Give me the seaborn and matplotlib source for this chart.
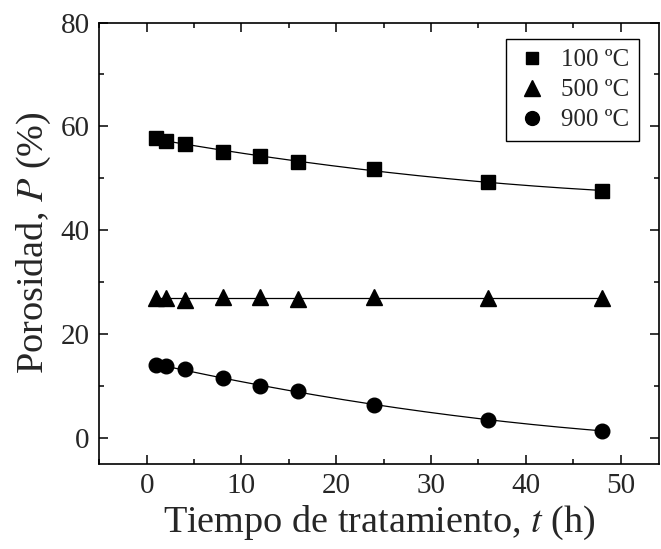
import numpy as np
import pandas as pd
import matplotlib
matplotlib.use("Agg")
import matplotlib.pyplot as plt
import seaborn as sns
from matplotlib.ticker import MultipleLocator
from matplotlib.lines import Line2D

sns.set_style("ticks")
plt.rcParams['font.family'] = ['Liberation Serif', 'DejaVu Serif']
plt.rcParams['mathtext.fontset'] = 'stix'

t = [1, 2, 4, 8, 12, 16, 24, 36, 48]
p100 = [57.7, 57.2, 56.6, 55.1, 54.2, 53.2, 51.7, 49.2, 47.6]
p500 = [26.9, 27.0, 26.6, 27.2, 27.1, 26.7, 27.1, 27.0, 26.9]
p900 = [14.0, 13.8, 13.2, 11.4, 10.0, 9.0, 6.3, 3.4, 1.35]
labels = ["100 ºC", "500 ºC", "900 ºC"]
markers = ["s", "^", "o"]
sizes = [9.5, 11.5, 10.5]

df = pd.DataFrame({
    "t": t * 3,
    "P": p100 + p500 + p900,
    "serie": [labels[0]] * len(t) + [labels[1]] * len(t) + [labels[2]] * len(t),
})

fig = plt.figure(figsize=(6.61, 5.49), dpi=100)
ax = fig.add_axes([0.1502, 0.1556, 0.8462, 0.8033])

tt = np.linspace(min(t), max(t), 200)
series = [p100, p500, p900]
for vals, deg in zip(series, [2, 0, 2]):
    coef = np.polyfit(t, vals, deg)
    sns.lineplot(x=tt, y=np.polyval(coef, tt), ax=ax, color="black", lw=0.9)

for lab, m, s in zip(labels, markers, sizes):
    sub = df[df["serie"] == lab]
    ax.plot(sub["t"], sub["P"], linestyle="none", marker=m, ms=s,
            color="black", mec="black", zorder=3)

ax.set_xlim(-5, 54)
ax.set_ylim(-5, 80)
ax.xaxis.set_major_locator(MultipleLocator(10))
ax.xaxis.set_minor_locator(MultipleLocator(5))
ax.yaxis.set_major_locator(MultipleLocator(20))
ax.yaxis.set_minor_locator(MultipleLocator(10))
ax.tick_params(which="both", direction="in", top=True, right=True,
               labeltop=False, labelright=False, width=1.1, color="black")
ax.tick_params(which="major", length=6.5, labelsize=21, pad=7)
ax.tick_params(which="minor", length=3.5)
for sp in ax.spines.values():
    sp.set_linewidth(1.2)
    sp.set_color("black")
    sp.set_visible(True)

ax.set_xlabel("Tiempo de tratamiento, $\\it{t}$ (h)", fontsize=27.5, labelpad=3)
ax.set_ylabel("Porosidad, $\\it{P}$ (%)", fontsize=27.5, labelpad=5)

handles = [Line2D([], [], linestyle="none", marker=m, ms=s * 0.95, color="black")
           for m, s in zip(markers, sizes)]
leg = ax.legend(handles, labels, loc="upper right", fontsize=18, frameon=True,
                fancybox=False, edgecolor="black", framealpha=1,
                borderpad=0.4, handlelength=1.3, handletextpad=0.5,
                labelspacing=0.3, borderaxespad=0,
                bbox_to_anchor=(0.965, 0.963))
leg.get_frame().set_linewidth(1.0)

fig.savefig("out.png", dpi=100)
